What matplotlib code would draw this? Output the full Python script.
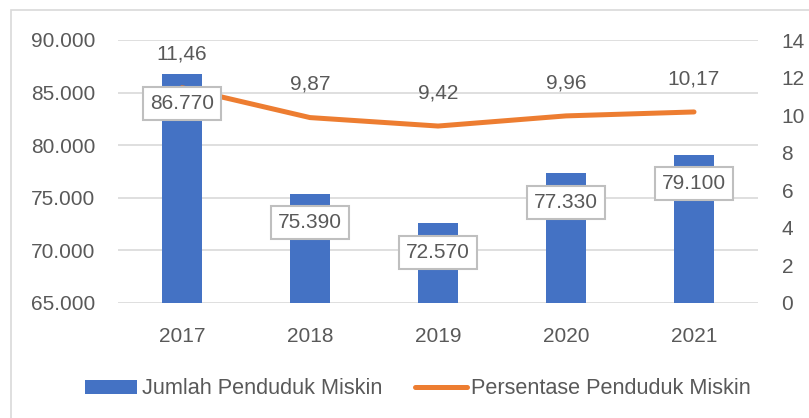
import matplotlib.pyplot as plt
from matplotlib.patches import Rectangle
from matplotlib.ticker import FuncFormatter

years = ['2017', '2018', '2019', '2020', '2021']
jumlah = [86770, 75390, 72570, 77330, 79100]
persentase = [11.46, 9.87, 9.42, 9.96, 10.17]

bar_color = '#4472C4'
line_color = '#ED7D31'
text_color = '#595959'
grid_color = '#D9D9D9'

plt.rcParams['font.family'] = ['Liberation Sans', 'DejaVu Sans']

fig = plt.figure(figsize=(8.09, 4.18), dpi=100)
ax = fig.add_axes([118 / 809, 115 / 418, 640 / 809, 263 / 418])
ax2 = ax.twinx()

# outer chart border (runs off the right and bottom edges)
fig.patches.append(Rectangle((11 / 809, -0.1), 1.0, 1.1 - 10 / 418, transform=fig.transFigure,
                             fill=False, edgecolor=grid_color, linewidth=1.2))

x = list(range(len(years)))
bars = ax.bar(x, jumlah, width=0.31, color=bar_color, zorder=2, label='Jumlah Penduduk Miskin')
ax.set_ylim(65000, 90000)
ax.set_xlim(-0.5, 4.5)
ax.set_yticks(range(65000, 90001, 5000))
ax.yaxis.set_major_formatter(FuncFormatter(lambda v, p: f'{int(v):,}'.replace(',', '.')))
ax.set_xticks(x)
ax.set_xticklabels(years)
ax.grid(axis='y', color=grid_color, linewidth=1.2, zorder=0)
ax.set_axisbelow(True)

line, = ax2.plot(x, persentase, color=line_color, linewidth=3.6, solid_capstyle='round',
                 zorder=3, label='Persentase Penduduk Miskin')
ax2.set_ylim(0, 14)
ax2.set_yticks(range(0, 15, 2))

for a in (ax, ax2):
    for s in a.spines.values():
        s.set_visible(False)
    a.tick_params(length=0, labelsize=15, colors=text_color)
ax.tick_params(axis='y', pad=16.5)
ax.tick_params(axis='x', pad=17.5)
ax2.tick_params(axis='y', pad=17)

ax2.set_zorder(ax.get_zorder() + 1)
ax2.patch.set_visible(False)

# bar value labels in boxes
for xi, v in zip(x, jumlah):
    ax2.annotate(f'{v:,}'.replace(',', '.'), xy=(xi, (v - 65000) / 25000 * 14), xytext=(0, -21),
                 textcoords='offset points', ha='center', va='center', fontsize=15, color=text_color,
                 bbox=dict(boxstyle='square,pad=0.33', facecolor='white', edgecolor='#BFBFBF', linewidth=1.5),
                 zorder=5)

# line value labels
for xi, v in zip(x, persentase):
    ax2.annotate(f'{v:.2f}'.replace('.', ','), xy=(xi, v), xytext=(0, 24),
                 textcoords='offset points', ha='center', va='center', fontsize=15, color=text_color)

fig.legend(handles=[bars, line], loc='center', bbox_to_anchor=(418 / 809, 29 / 418), ncol=2, frameon=False,
           fontsize=15.6, labelcolor=text_color, handlelength=2.4, handleheight=0.65,
           handletextpad=0.2, columnspacing=1.5)

fig.savefig('out.png', dpi=100)
